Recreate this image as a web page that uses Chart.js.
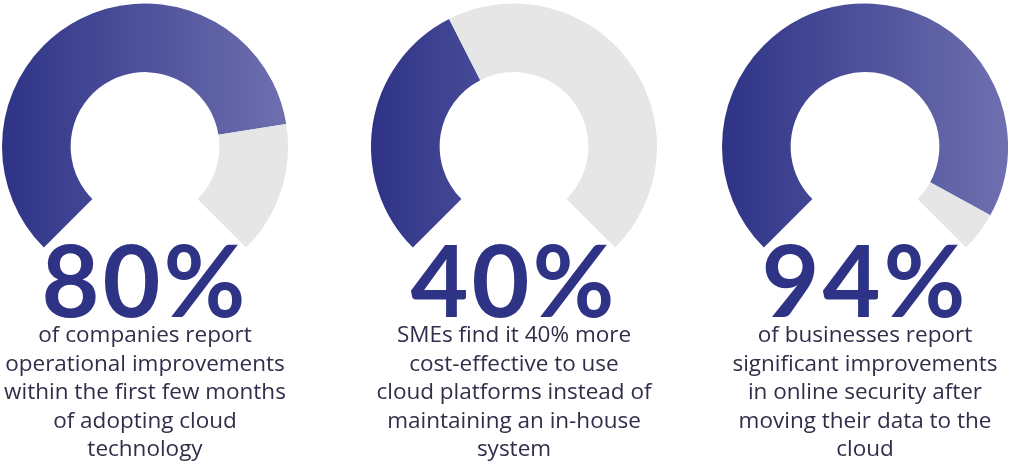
<!DOCTYPE html>
<html>
<head>
<script src="https://cdn.jsdelivr.net/npm/chart.js@4"></script>
<style>
body { margin: 0; width: 1024px; height: 476px; background: #fff; position: relative; overflow: hidden; font-family: "Open Sans", sans-serif; }
.box { position: absolute; width: 286px; height: 245px; }
.big { position: absolute; width: 360px; text-align: center; font-family: "Lato", sans-serif; font-weight: 700; font-size: 100px; color: #2e3386; line-height: 1; letter-spacing: 3px; }
.txt { position: absolute; width: 380px; text-align: center; font-size: 22.5px; line-height: 28.5px; color: #2f2f4a; }
</style>
</head>
<body>
<script>
// Gauge values (percent)
var values = [80, 40, 94];
var bigLabels = ['80%', '40%', '94%'];
var captions = [
    ['of companies report', 'operational improvements', 'within the first few months', 'of adopting cloud', 'technology'],
    ['SMEs find it 40% more', 'cost-effective to use', 'cloud platforms instead of', 'maintaining an in-house', 'system'],
    ['of businesses report', 'significant improvements', 'in online security after', 'moving their data to the', 'cloud']
];
var centersX = [145, 514, 865];

values.forEach((v, i) => {
    // Canvas holder
    var box = document.createElement('div');
    box.className = 'box';
    box.style.left = (centersX[i] - 143) + 'px';
    box.style.top = '3px';
    var cv = document.createElement('canvas');
    box.appendChild(cv);
    document.body.appendChild(box);

    new Chart(cv, {
        type: 'doughnut',
        data: {
            datasets: [{
                data: [v, 100 - v],
                backgroundColor: ctx => {
                    if (ctx.dataIndex == 1) return '#e6e6e6';
                    var area = ctx.chart.chartArea;
                    if (!area) return '#2e3386';
                    var g = ctx.chart.ctx.createLinearGradient(area.left, 0, area.right, 0);
                    g.addColorStop(0, '#2e3386');
                    g.addColorStop(1, '#6f70b0');
                    return g;
                },
                borderWidth: 0
            }]
        },
        options: {
            responsive: true,
            maintainAspectRatio: false,
            animation: false,
            rotation: -135,
            circumference: 270,
            cutout: '52%',
            plugins: { legend: { display: false }, tooltip: { enabled: false } }
        }
    });

    // Big number
    var big = document.createElement('div');
    big.className = 'big';
    big.textContent = bigLabels[i];
    big.style.left = (centersX[i] - 180) + 'px';
    big.style.top = '228px';
    document.body.appendChild(big);

    // Caption
    var t = document.createElement('div');
    t.className = 'txt';
    t.innerHTML = captions[i].join('<br>');
    t.style.left = (centersX[i] - 190) + 'px';
    t.style.top = '320px';
    document.body.appendChild(t);
});
</script>
</body>
</html>
